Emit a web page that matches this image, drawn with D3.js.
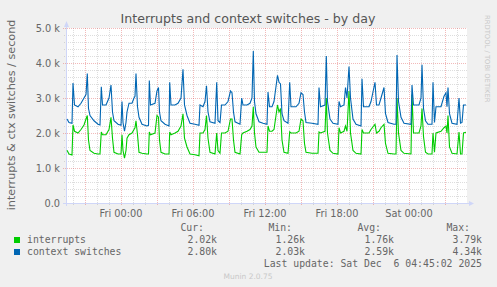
<!DOCTYPE html>
<html>
<head>
<meta charset="utf-8">
<script src="https://cdn.jsdelivr.net/npm/d3@7"></script>
<style>
body { margin: 0; background: #f0f0f0; }
svg { display: block; font-family: "DejaVu Sans", sans-serif; }
</style>
</head>
<body>
<svg id="chart" width="497" height="287"></svg>
<script>
// minutes after Thu Dec 4 19:30 (one pixel = 5 minutes)
var minutes = [
    0, 10, 25, 30, 37.5, 55, 70, 85, 95, 101.5, 107.5, 115, 135, 155, 165, 171.5, 177.5, 195, 210, 220, 227.5, 235, 255, 270, 275, 280, 287.5, 295, 300, 310, 325, 335,
    340, 345, 352.5, 360, 375, 400, 407.5, 411.5, 417.5, 440, 450, 457.5, 462.5, 470, 490, 510, 513.5, 520, 540, 555, 570, 580, 587.5, 600, 615, 640, 660, 665,
    680, 690, 697.5, 705, 715, 740, 748.5, 755, 765, 772.5, 790, 805, 817.5, 825, 832.5, 840, 865, 873.5, 880, 900, 915, 925, 931.5, 937.5, 945, 960, 980, 1000, 1005,
    1012.5, 1025, 1035, 1052.5, 1060, 1067.5, 1075, 1085, 1105, 1113.5, 1120, 1145, 1160, 1170, 1180, 1187.5, 1195, 1225, 1255, 1260, 1267.5, 1290, 1296.5, 1302.5, 1315, 1330, 1355,
    1360, 1367.5, 1385, 1392.5, 1400, 1410, 1417.5, 1430, 1445, 1470, 1475, 1482.5, 1510, 1520, 1540, 1547.5, 1560, 1570, 1585, 1592.5, 1605, 1635, 1645, 1650, 1657.5, 1670, 1685, 1720,
    1725, 1732.5, 1760, 1770, 1775, 1782.5, 1792.5, 1805, 1825, 1830, 1837.5, 1845, 1870, 1885, 1895, 1900, 1905, 1912.5, 1925, 1950, 1960, 1967.5, 1975, 1982.5, 1995
];
var interrupts = [
    1510, 1400, 1370, 2230, 2050, 2000, 2100, 2230, 2400, 2500, 1800, 1500, 1420, 1400, 1400, 2030, 1950, 1950, 2100, 2450, 1850, 1450, 1400, 1400, 1950, 1500, 1280, 1500, 1850, 1950, 2000, 2100,
    2150, 2350, 1950, 1450, 1420, 1400, 1400, 2030, 1950, 2000, 2500, 2450, 1800, 1450, 1400, 1400, 2030, 1950, 2000, 2050, 2200, 2550, 1850, 1600, 1400, 1380, 1350, 2000,
    2000, 2100, 2500, 1850, 1450, 1400, 2000, 1500, 1420, 2000, 2000, 2050, 2400, 2400, 1800, 1450, 1400, 1950, 2000, 2050, 2100, 2200, 2750, 2000, 1600, 1450, 1450, 1450, 2200,
    2050, 2050, 2100, 2800, 2600, 2700, 1800, 1450, 1420, 2030, 2000, 2000, 2050, 2400, 2350, 1700, 1450, 1420, 1420, 2030, 2000, 2050, 3000, 2000, 1500, 1420, 1400,
    2150, 2000, 2050, 2200, 2050, 3200, 2000, 1500, 1420, 1400, 2100, 2000, 2000, 2100, 2250, 2000, 2050, 2150, 2250, 1700, 1420, 1400, 1400, 3000, 2000, 1500, 1420, 1400,
    3100, 2000, 2000, 2200, 2700, 1900, 1450, 1400, 1400, 2000, 1450, 2000, 2050, 2150, 2200, 2000, 2500, 1600, 1420, 1400, 2030, 1400, 1400, 2000, 2020
];
var ctxSwitches = [
    2400, 2300, 2280, 3430, 2800, 2750, 2850, 3000, 3100, 3700, 2700, 2500, 2350, 2250, 2230, 3320, 2800, 2800, 3000, 3370, 2600, 2350, 2250, 2220, 2900, 2300, 2050, 2300, 2600, 2850, 2850, 3000,
    3050, 3700, 2750, 2450, 2250, 2200, 2220, 3500, 2800, 2850, 3200, 3300, 2600, 2350, 2250, 2200, 3450, 2800, 2800, 2850, 3000, 3820, 2800, 2500, 2280, 2250, 2220, 2800,
    2750, 2900, 3350, 2600, 2320, 2280, 3450, 2350, 2300, 2800, 2800, 2900, 3200, 3150, 2600, 2320, 2250, 3000, 2800, 2800, 2850, 3000, 4340, 2900, 2550, 2320, 2280, 2250, 3170,
    2750, 2750, 2900, 3650, 3450, 3400, 2550, 2350, 2280, 3450, 2750, 2750, 2850, 3150, 3100, 2600, 2300, 2280, 2250, 3300, 2750, 2800, 4200, 2900, 2400, 2280, 2250,
    2900, 2750, 2800, 3300, 3000, 3900, 3000, 2400, 2250, 2200, 3550, 2750, 2750, 2900, 3450, 2800, 2800, 3000, 3300, 2550, 2300, 2250, 2250, 4230, 2900, 2450, 2280, 2250,
    3370, 2800, 2800, 3000, 3950, 2700, 2350, 2250, 2250, 3450, 2300, 2750, 2750, 3050, 3150, 2750, 3300, 2550, 2280, 2250, 3000, 2280, 2300, 2800, 2800
];

var seriesNames = ["interrupts", "context switches"];
var seriesColors = ["#00cc00", "#0066b3"];
var legendCur = [2020, 2800];
var legendMin = [1260, 2030];
var legendAvg = [1760, 2590];
var legendMax = [3790, 4340];
var yTickValues = [0, 1000, 2000, 3000, 4000, 5000];
var yTickLabels = ["0.0", "1.0 k", "2.0 k", "3.0 k", "4.0 k", "5.0 k"];

var svg = d3.select("#chart");
var plotLeft = 67, plotRight = 467, plotTop = 28, plotBottom = 203;
var minorColor = "rgba(143,143,143,0.3)";
var majorColor = "rgba(222,79,79,0.4)";

var start = new Date(2025, 11, 4, 19, 30);
var end = new Date(start.getTime() + 2000 * 60000);
var x = d3.scaleTime().domain([start, end]).range([plotLeft, plotRight]);
var y = d3.scaleLinear().domain([0, 5000]).range([plotBottom, plotTop]);

function timeAt(m) {
    return new Date(start.getTime() + m * 60000);
}

// canvas
svg.append("rect")
    .attr("x", plotLeft).attr("y", plotTop)
    .attr("width", plotRight - plotLeft).attr("height", plotBottom - plotTop)
    .attr("fill", "#ffffff");

// minor grid
var minorY = d3.range(200, 5000, 200).filter(function (v) { return v % 1000 != 0; });
svg.selectAll(".hminor").data(minorY).enter().append("line")
    .attr("x1", plotLeft - 3).attr("x2", plotRight)
    .attr("y1", function (d) { return Math.round(y(d)) + 0.5; })
    .attr("y2", function (d) { return Math.round(y(d)) + 0.5; })
    .style("stroke", minorColor)
    .style("stroke-dasharray", "1,1");

var hours = x.ticks(d3.timeHour.every(1));
svg.selectAll(".vgrid").data(hours).enter().append("line")
    .attr("x1", function (d) { return Math.round(x(d)) + 0.5; })
    .attr("x2", function (d) { return Math.round(x(d)) + 0.5; })
    .attr("y1", plotTop).attr("y2", plotBottom + 2)
    .style("stroke", function (d) {
        return d.getHours() % 3 == 0 ? majorColor : minorColor;
    })
    .style("stroke-dasharray", "1,1");

// major grid
svg.selectAll(".hmajor").data(yTickValues.slice(1)).enter().append("line")
    .attr("x1", plotLeft - 4).attr("x2", plotRight)
    .attr("y1", function (d) { return Math.round(y(d)) + 0.5; })
    .attr("y2", function (d) { return Math.round(y(d)) + 0.5; })
    .style("stroke", majorColor)
    .style("stroke-dasharray", "1,1");

// axes
svg.append("line")
    .attr("x1", plotLeft - 4).attr("x2", plotRight + 3)
    .attr("y1", plotBottom + 0.5).attr("y2", plotBottom + 0.5)
    .style("stroke", "#cfd6f8");
svg.append("line")
    .attr("x1", plotLeft - 0.5).attr("x2", plotLeft - 0.5)
    .attr("y1", plotBottom + 3).attr("y2", plotTop - 4)
    .style("stroke", "#cfd6f8");
svg.append("path")
    .attr("d", "M" + (plotLeft - 3) + "," + (plotTop - 1) + "L" + (plotLeft + 2) + "," + (plotTop - 1) + "L" + (plotLeft - 0.5) + "," + (plotTop - 7) + "Z")
    .attr("fill", "#cfd6f8");
svg.append("path")
    .attr("d", "M" + (plotRight + 2) + "," + (plotBottom - 2) + "L" + (plotRight + 2) + "," + (plotBottom + 3) + "L" + (plotRight + 7) + "," + (plotBottom + 0.5) + "Z")
    .attr("fill", "#cfd6f8");

// tick labels
svg.selectAll(".ylab").data(yTickValues).enter().append("text")
    .attr("x", 60)
    .attr("y", function (d) { return y(d) + 3.5; })
    .attr("text-anchor", "end")
    .style("font-size", "9.8px")
    .style("fill", "#666")
    .text(function (d, i) { return yTickLabels[i]; });

var fmtTime = d3.timeFormat("%a %H:%M");
svg.selectAll(".xlab").data(x.ticks(d3.timeHour.every(6))).enter().append("text")
    .attr("x", function (d) { return x(d); })
    .attr("y", 216.5)
    .attr("text-anchor", "middle")
    .style("font-size", "9.8px")
    .style("fill", "#666")
    .text(function (d) { return fmtTime(d); });

// series
var series = [interrupts, ctxSwitches];
series.forEach(function (values, k) {
    var line = d3.line()
        .x(function (d, i) { return x(timeAt(minutes[i])); })
        .y(function (d) { return y(d); });
    svg.append("path")
        .datum(values)
        .attr("d", line)
        .attr("fill", "none")
        .style("stroke", seriesColors[k])
        .style("stroke-width", 1.1);
});

// titles
svg.append("text")
    .attr("x", 248).attr("y", 23)
    .attr("text-anchor", "middle")
    .style("font-size", "12.6px")
    .style("fill", "#555")
    .text("Interrupts and context switches - by day");

svg.append("text")
    .attr("transform", "translate(14.5,115) rotate(-90)")
    .attr("text-anchor", "middle")
    .style("font-size", "11.2px")
    .style("fill", "#666")
    .text("interrupts & ctx switches / second");

svg.append("text")
    .attr("transform", "translate(485,15) rotate(90)")
    .style("font-size", "6.8px")
    .style("fill", "#c8c8c8")
    .text("RRDTOOL / TOBI OETIKER");

// legend
var mono = "'DejaVu Sans Mono', monospace";
var fmtK = function (v) { return d3.format(".2f")(v / 1000) + "k"; };
var headers = ["Cur:", "Min:", "Avg:", "Max:"];
var headerX = [204, 292, 381, 470];
var valueX = [217, 305, 394, 482];
var stats = [legendCur, legendMin, legendAvg, legendMax];

headers.forEach(function (h, j) {
    svg.append("text")
        .attr("x", headerX[j]).attr("y", 231)
        .attr("text-anchor", "end")
        .style("font-family", mono).style("font-size", "9.8px").style("fill", "#666")
        .text(h);
});

seriesNames.forEach(function (name, k) {
    var base = 243 + k * 12;
    svg.append("rect")
        .attr("x", 14).attr("y", base - 6)
        .attr("width", 6).attr("height", 6)
        .attr("fill", seriesColors[k]);
    svg.append("text")
        .attr("x", 27).attr("y", base)
        .style("font-family", mono).style("font-size", "9.8px").style("fill", "#666")
        .text(name);
    stats.forEach(function (s, j) {
        svg.append("text")
            .attr("x", valueX[j]).attr("y", base)
            .attr("text-anchor", "end")
            .style("font-family", mono).style("font-size", "9.8px").style("fill", "#666")
            .text(fmtK(s[k]));
    });
});

svg.append("text")
    .attr("x", 482).attr("y", 267)
    .attr("text-anchor", "end")
    .style("font-family", mono).style("font-size", "9.8px").style("fill", "#666")
    .style("white-space", "pre")
    .text("Last update: Sat Dec  6 04:45:02 2025");

svg.append("text")
    .attr("x", 248).attr("y", 279)
    .attr("text-anchor", "middle")
    .style("font-size", "7.5px")
    .style("fill", "#c8c8c8")
    .text("Munin 2.0.75");
</script>
</body>
</html>
